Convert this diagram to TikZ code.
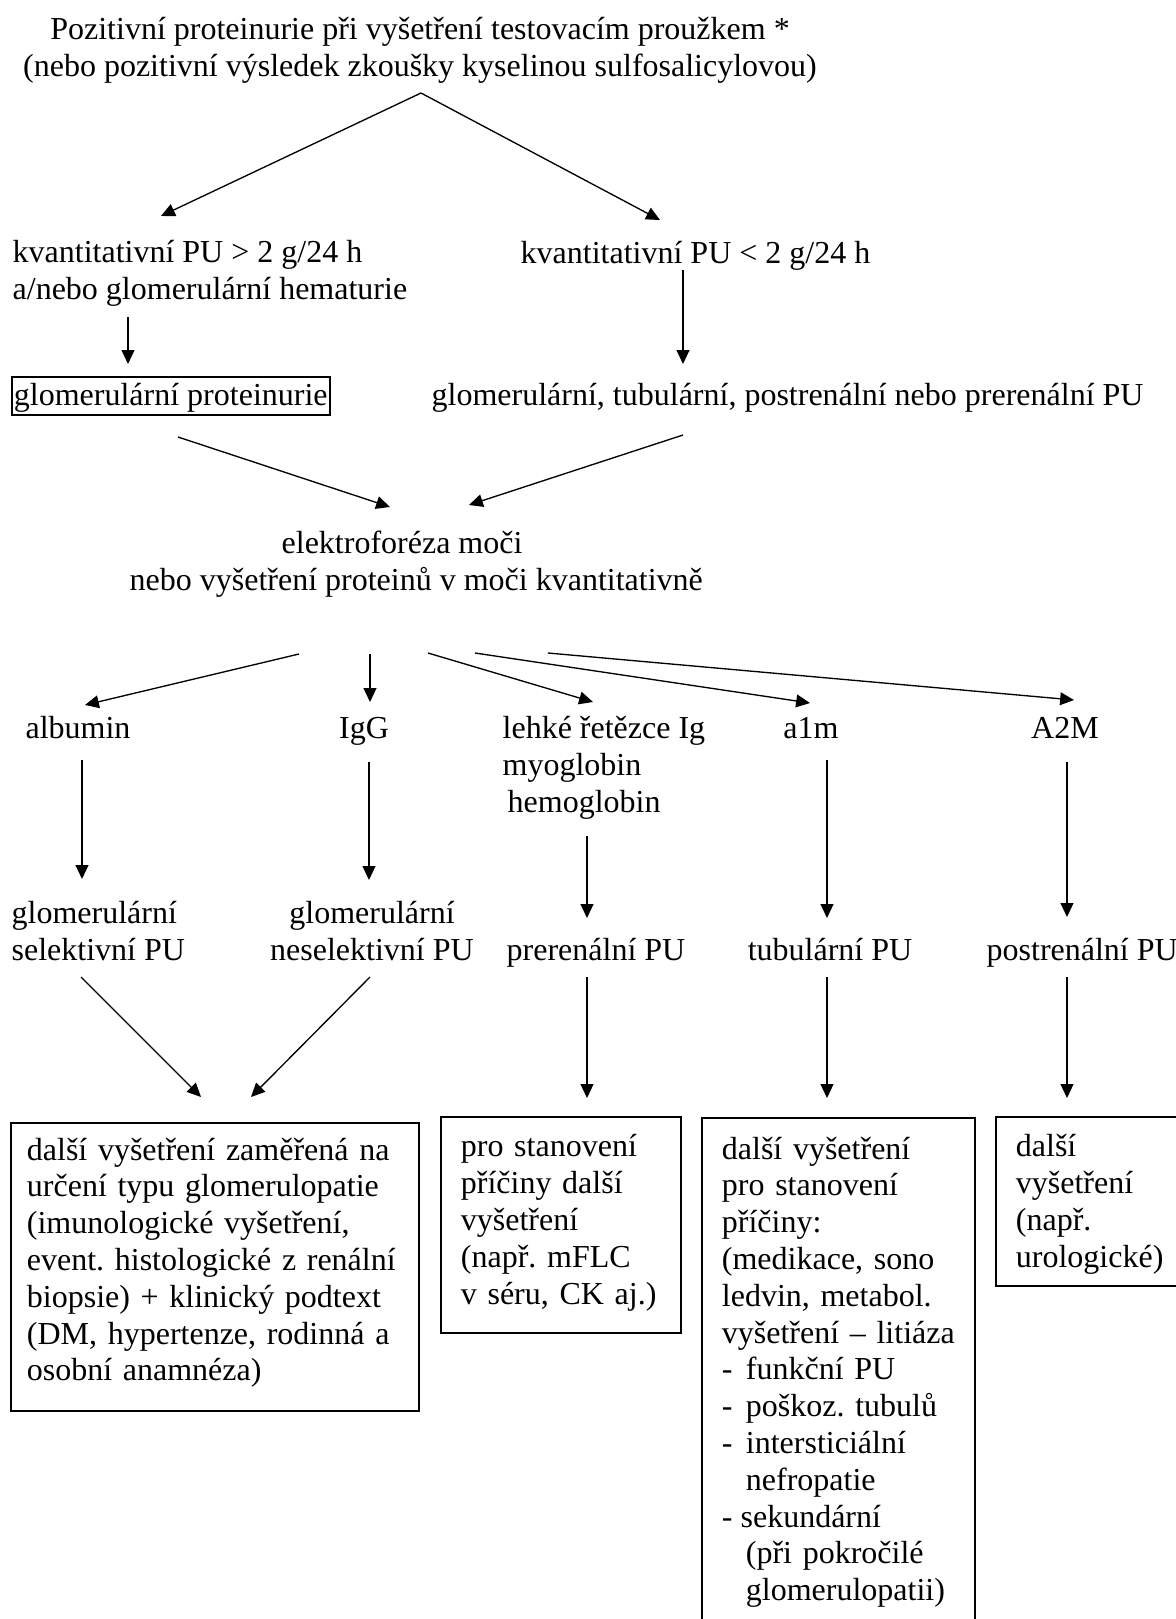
\documentclass[tikz,border=0pt]{standalone}
\usepackage{fontspec}
\setmainfont{Liberation Serif}
\usetikzlibrary{calc,arrows.meta}

\tikzset{
  every node/.style={inner sep=0pt, font=\fontsize{12pt}{13.8pt}\selectfont\frenchspacing},
  lbl/.style={align=left, anchor=base west},
  ctr/.style={align=center, anchor=base},
  krabice/.style={draw, line width=0.7pt, align=left, anchor=north west, inner xsep=7.5pt, inner ysep=0pt},
  arr/.style={-{Triangle[length=5.2pt,width=4.8pt]}}
}

\begin{document}
\begin{tikzpicture}[x=0.375pt, y=-0.375pt, line width=0.5pt]
\useasboundingbox (0,0) rectangle (1176,1619);

%test proužkem (base = posledni radek)
\node[ctr] (test) at (420,76) {Pozitivní proteinurie při vyšetření testovacím proužkem *\\(nebo pozitivní výsledek zkoušky kyselinou sulfosalicylovou)};

\node[lbl] (vys) at (12,299) {kvantitativní PU > 2 g/24 h\\a/nebo glomerulární hematurie};
\node[lbl] (niz) at (520,263) {kvantitativní PU < 2 g/24 h};

\node[lbl, draw, line width=0.7pt, inner xsep=0.75pt, text height=10.5pt, text depth=3.75pt] (glom) at (11,405) {glomerulární proteinurie};
\node[lbl] (ost) at (431,405) {glomerulární, tubulární, postrenální nebo prerenální PU};

%elektroforeza
\node[lbl] (elfo) at (129,590) {\hspace*{57pt}elektroforéza moči\\nebo vyšetření proteinů v moči kvantitativně};

%bilkoviny
\node[ctr] (alb) at (78,738) {albumin};
\node[ctr] (igg) at (364,738) {IgG};
\node[lbl] (leh) at (502,812) {lehké řetězce Ig\\myoglobin\\\hspace*{1.9pt}hemoglobin};
\node[ctr] (a1m) at (811,738) {a1m};
\node[ctr] (a2m) at (1065,738) {A2M};

%typ PU
\node[lbl] (sel) at (11,960) {glomerulární\\selektivní PU};
\node[ctr] (nesel) at (372,960) {glomerulární\\neselektivní PU};
\node[ctr] (pre) at (596,960) {prerenální PU};
\node[ctr] (tub) at (830,960) {tubulární PU};
\node[lbl] (post) at (986,960) {postrenální PU};

%dalsi vysetreni
\node[krabice, inner xsep=6pt, text width=141pt, text height=13.9pt, text depth=94.1pt] (box1) at (10,1122)
 {další vyšetření zaměřená na\\určení typu glomerulopatie\\(imunologické vyšetření,\\event. histologické z renální\\biopsie) + klinický podtext\\(DM, hypertenze, rodinná a\\osobní anamnéza)};
\node[krabice, text width=75pt, text height=15pt, text depth=66pt] (box2) at (440,1116)
 {pro stanovení\\příčiny další\\vyšetření\\(např. mFLC\\v séru, CK aj.)};
\node[krabice, text width=87.4pt, text height=15.4pt, text depth=181pt] (box3) at (701,1117)
 {další vyšetření\\pro stanovení\\příčiny:\\(medikace, sono\\ledvin, metabol.\\vyšetření – litiáza\\
  \makebox[9pt][l]{-}funkční PU\\\makebox[9pt][l]{-}poškoz. tubulů\\\makebox[9pt][l]{-}intersticiální\\\hspace*{9pt}nefropatie\\
  \makebox[7pt][l]{-}sekundární\\\hspace*{9pt}(při pokročilé\\\hspace*{9pt}glomerulopatii)};
\node[krabice, text width=72pt, text height=15pt, text depth=48.4pt] (box4) at (995,1116)
 {další\\vyšetření\\(např.\\urologické)};

%sipky
\draw[arr] ($(test.base)+(1,17)$) -- ($(vys.base west)+(149,-83)$);
\draw[arr] ($(test.base)+(1,17)$) -- ($(niz.base west)+(140,-43)$);
\draw[arr] ($(vys.base west)+(116,18)$) -- ($(glom.base west)+(117,-41)$);
\draw[arr] ($(niz.base west)+(163,7)$) -- ($(ost.base west)+(252,-41)$);
\draw[arr] ($(glom.base west)+(167,32)$) -- ($(elfo.base west)+(261,-83)$);
\draw[arr] ($(ost.base west)+(252,30)$) -- ($(elfo.base west)+(340,-85)$);

\draw[arr] ($(elfo.base west)+(170,64)$) -- ($(alb.base)+(7,-33)$);
\draw[arr] ($(elfo.base west)+(241,64)$) -- ($(igg.base)+(6,-36)$);
\draw[arr] ($(elfo.base west)+(299,63)$) -- ($(leh.base west)+(91,-110)$);
\draw[arr] ($(elfo.base west)+(346,63)$) -- ($(a1m.base)+(-1,-35)$);
\draw[arr] ($(elfo.base west)+(419,63)$) -- ($(a2m.base)+(9,-38)$);

\draw[arr] ($(alb.base)+(4,22)$) -- ($(sel.base west)+(71,-81)$);
\draw[arr] ($(igg.base)+(5,24)$) -- ($(nesel.base)+(-3,-80)$);
\draw[arr] ($(leh.base west)+(85,24)$) -- ($(pre.base)+(-9,-42)$);
\draw[arr] ($(a1m.base)+(16,22)$) -- ($(tub.base)+(-3,-42)$);
\draw[arr] ($(a2m.base)+(2,24)$) -- ($(post.base west)+(81,-43)$);

\draw[arr] ($(sel.base west)+(70,17)$) -- ($(box1.north west)+(191,-25)$);
\draw[arr] ($(nesel.base)+(-2,17)$) -- ($(box1.north west)+(241,-25)$);
\draw[arr] ($(pre.base)+(-9,17)$) -- ($(box2.north west)+(147,-18)$);
\draw[arr] ($(tub.base)+(-3,17)$) -- ($(box3.north west)+(126,-19)$);
\draw[arr] ($(post.base west)+(81,17)$) -- ($(box4.north west)+(72,-18)$);

\end{tikzpicture}
\end{document}
